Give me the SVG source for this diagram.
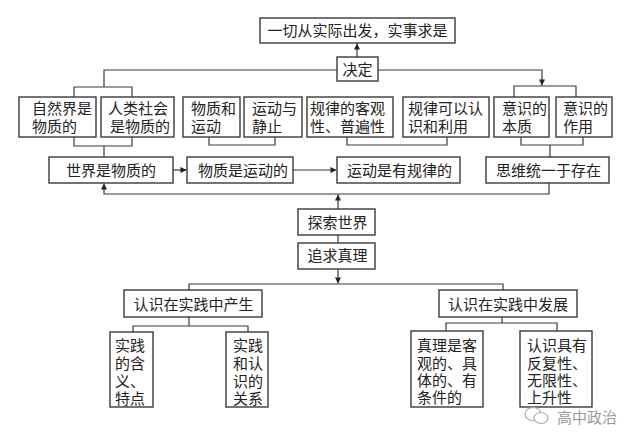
<svg xmlns="http://www.w3.org/2000/svg" width="640" height="443" viewBox="0 0 640 443">
<defs>
<style>
.box{fill:#fff;stroke:#3a3a3a;stroke-width:1.4}
.t{font-family:"Liberation Serif","Noto Sans CJK SC",serif;font-size:15px;fill:#222}
.c{text-anchor:middle}
.ln{fill:none;stroke:#3a3a3a;stroke-width:1.2}
.wm{font-family:"Noto Sans CJK SC",sans-serif;font-size:15px;fill:#9a9a9a}
</style>
<marker id="ah" viewBox="0 0 10 10" refX="10" refY="5" markerWidth="7" markerHeight="6" orient="auto" markerUnits="userSpaceOnUse">
<path d="M0,0 L10,5 L0,10 z" fill="#222"/>
</marker>
</defs>
<rect width="640" height="443" fill="#fff"/>
<g id="connectors">
<path class="ln" d="M357,57 V43.5" marker-end="url(#ah)"/>
<path class="ln" d="M337,70 H104 V87 M74,97 V87 H132 V97"/>
<path class="ln" d="M378,70 H542 V85.5" marker-end="url(#ah)"/>
<path class="ln" d="M514,97 V86 H576 V97"/>
<path class="ln" d="M74,137 V146 H132 V137 M104,146 V157"/>
<path class="ln" d="M209,137 V145 H275 V137"/>
<path class="ln" d="M347,137 V145 H447 V137"/>
<path class="ln" d="M521,137 V145 H583 V137 M550,145 V157"/>
<path class="ln" d="M173,170 H186.5" marker-end="url(#ah)"/>
<path class="ln" d="M293,170 H336.5" marker-end="url(#ah)"/>
<path class="ln" d="M549,183 V194 H104 V183.5" marker-end="url(#ah)"/>
<path class="ln" d="M338,209 V194.5" marker-end="url(#ah)"/>
<path class="ln" d="M338,235 V243"/>
<path class="ln" d="M338,269 V283.5" marker-end="url(#ah)"/>
<path class="ln" d="M189,290 V284 H503 V290"/>
<path class="ln" d="M189,317 V326 M133,332 V326 H248 V332"/>
<path class="ln" d="M502,317 V323 M446,331 V323 H557 V331"/>
</g>
<g id="n-top"><rect class="box" x="260" y="18" width="195" height="25"/><text class="t c" x="357.5" y="36">一切从实际出发，实事求是</text></g>
<g id="n-jueding"><rect class="box" x="337" y="57" width="41" height="24"/><text class="t c" x="357.5" y="74.5">决定</text></g>
<g id="n-ziran"><rect class="box" x="19" y="97" width="77" height="40"/><text class="t" x="32" y="114">自然界是</text><text class="t" x="32" y="131.5">物质的</text></g>
<g id="n-renlei"><rect class="box" x="101" y="97" width="73" height="40"/><text class="t" x="108" y="114">人类社会</text><text class="t" x="110" y="131.5">是物质的</text></g>
<g id="n-wuzhi"><rect class="box" x="183" y="97" width="57" height="40"/><text class="t" x="191" y="114">物质和</text><text class="t" x="191" y="131.5">运动</text></g>
<g id="n-yundong"><rect class="box" x="244" y="97" width="58" height="40"/><text class="t" x="252" y="114">运动与</text><text class="t" x="252" y="131.5">静止</text></g>
<g id="n-guilv1"><rect class="box" x="307" y="97" width="86" height="40"/><text class="t" x="310" y="114">规律的客观</text><text class="t" x="310" y="131.5">性、普遍性</text></g>
<g id="n-guilv2"><rect class="box" x="403" y="97" width="86" height="40"/><text class="t" x="408" y="114">规律可以认</text><text class="t" x="408" y="131.5">识和利用</text></g>
<g id="n-yishi1"><rect class="box" x="494" y="97" width="55" height="40"/><text class="t" x="502" y="114">意识的</text><text class="t" x="502" y="131.5">本质</text></g>
<g id="n-yishi2"><rect class="box" x="556" y="97" width="56" height="40"/><text class="t" x="563" y="114">意识的</text><text class="t" x="563" y="131.5">作用</text></g>
<g id="n-shijie"><rect class="box" x="49" y="157" width="124" height="26"/><text class="t c" x="111" y="175.5">世界是物质的</text></g>
<g id="n-yundongde"><rect class="box" x="187" y="157" width="106" height="26"/><text class="t c" x="243" y="175.5">物质是运动的</text></g>
<g id="n-guilvde"><rect class="box" x="337" y="157" width="123" height="26"/><text class="t c" x="399.5" y="175.5">运动是有规律的</text></g>
<g id="n-siwei"><rect class="box" x="486" y="157" width="123" height="26"/><text class="t c" x="548.5" y="175.5">思维统一于存在</text></g>
<g id="n-tansuo"><rect class="box" x="298" y="209" width="77" height="26"/><text class="t c" x="337.5" y="227.5">探索世界</text></g>
<g id="n-zhuiqiu"><rect class="box" x="298" y="243" width="77" height="26"/><text class="t c" x="337.5" y="260.5">追求真理</text></g>
<g id="n-chansheng"><rect class="box" x="124" y="290" width="138" height="27"/><text class="t c" x="193.5" y="309.5">认识在实践中产生</text></g>
<g id="n-fazhan"><rect class="box" x="439" y="290" width="138" height="27"/><text class="t c" x="508" y="309.5">认识在实践中发展</text></g>
<g id="n-hanyi"><rect class="box" x="110" y="332" width="43" height="75"/><text class="t" x="115" y="351">实践</text><text class="t" x="115" y="369">的含</text><text class="t" x="115" y="386.5">义、</text><text class="t" x="115" y="404">特点</text></g>
<g id="n-guanxi"><rect class="box" x="226" y="332" width="42" height="75"/><text class="t" x="233" y="351">实践</text><text class="t" x="233" y="369">和认</text><text class="t" x="233" y="386.5">识的</text><text class="t" x="233" y="404">关系</text></g>
<g id="n-zhenli"><rect class="box" x="411" y="331" width="72" height="76"/><text class="t" x="417" y="351">真理是客</text><text class="t" x="417" y="368.5">观的、具</text><text class="t" x="417" y="386">体的、有</text><text class="t" x="417" y="403">条件的</text></g>
<g id="n-fanfu"><rect class="box" x="520" y="331" width="72" height="76"/><text class="t" x="527" y="351">认识具有</text><text class="t" x="527" y="368.5">反复性、</text><text class="t" x="527" y="386">无限性、</text><text class="t" x="527" y="403">上升性</text></g>
<g id="watermark">
<ellipse cx="533" cy="414" rx="8" ry="6.5" fill="none" stroke="#aaa" stroke-width="1.2"/>
<ellipse cx="541" cy="418" rx="7" ry="5.5" fill="#fff" stroke="#aaa" stroke-width="1.2"/>
<text class="wm" x="557" y="423">高中政治</text>
</g>
</svg>
